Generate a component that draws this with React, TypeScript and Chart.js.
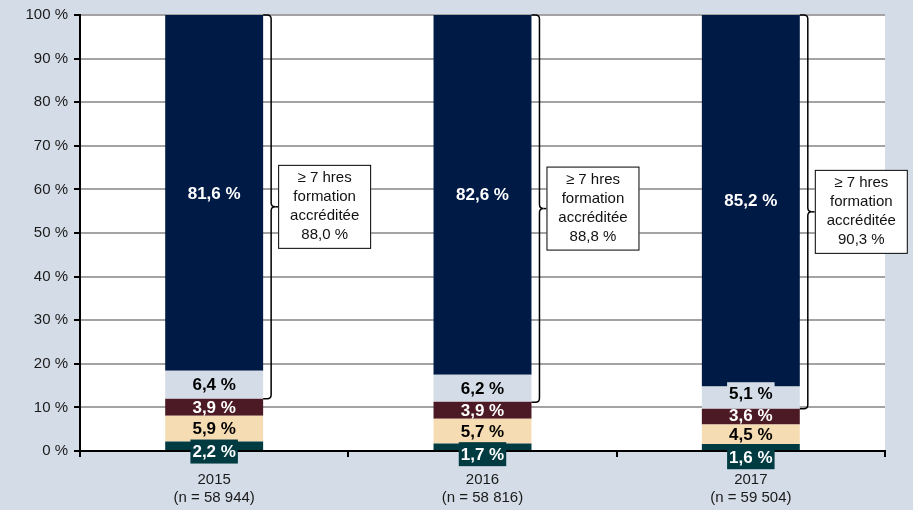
import React, { useEffect, useRef } from "react";
import { Chart, registerables } from "chart.js";

Chart.register(...registerables);

const categories: string[][] = [
  ["2015", "(n = 58 944)"],
  ["2016", "(n = 58 816)"],
  ["2017", "(n = 59 504)"],
];

const seriesTeal = [2.2, 1.7, 1.6];
const seriesBeige = [5.9, 5.7, 4.5];
const seriesMaroon = [3.9, 3.9, 3.6];
const seriesLight = [6.4, 6.2, 5.1];
const seriesNavy = [81.6, 82.6, 85.2];
const accredited = [88.0, 88.8, 90.3];
const bracketLines = ["\u2265 7 hres", "formation", "accréditée"];

const BG = "#d4dde7";
const colors = ["#003b42", "#f6dcb2", "#4b1a24", "#d4dde7", "#001a46"];
const labelColors = ["#ffffff", "#000000", "#ffffff", "#000000", "#ffffff"];
const boxedLabels = [true, false, false, true, false];
const FONT = "'Liberation Sans', Arial, sans-serif";

const fmt = (v: number) => v.toFixed(1).replace(".", ",") + " %";

const plotBgPlugin = {
  id: "plotBg",
  beforeDraw(chart: any) {
    const { ctx, chartArea: a } = chart;
    ctx.save();
    ctx.fillStyle = "#ffffff";
    ctx.fillRect(a.left, a.top, a.right - a.left, a.bottom - a.top);
    ctx.restore();
  },
};

const labelsPlugin = {
  id: "segLabels",
  afterDatasetsDraw(chart: any) {
    const { ctx } = chart;
    const n = chart.data.labels.length;
    ctx.save();
    ctx.font = `bold 17px ${FONT}`;
    ctx.textAlign = "center";
    ctx.textBaseline = "middle";
    const items: { x: number; y: number; t: string; i: number }[] = [];
    for (let j = 0; j < n; j++) {
      const segs: number[] = [];
      const xs: number[] = [];
      for (let i = 0; i < 5; i++) {
        const el: any = chart.getDatasetMeta(i).data[j];
        segs.push((el.y + el.base) / 2);
        xs.push(el.x);
      }
      const c: number[] = [...segs];
      c[2] = Math.min(segs[2], c[1] - 19);
      c[3] = Math.min(segs[3], c[2] - 22);
      c[0] = Math.max(segs[0], c[1] + 23);
      for (let i = 0; i < 5; i++) {
        items.push({ x: xs[i], y: c[i], t: fmt(chart.data.datasets[i].data[j]), i });
      }
    }
    for (const it of items) {
      if (!boxedLabels[it.i]) continue;
      const w = ctx.measureText(it.t).width;
      const h = it.i === 0 ? 24 : 22;
      ctx.fillStyle = colors[it.i];
      ctx.fillRect(it.x - w / 2 - 2, it.y - h / 2, w + 4, h);
    }
    for (const it of items) {
      ctx.fillStyle = labelColors[it.i];
      ctx.fillText(it.t, it.x, it.y + 1);
    }
    ctx.restore();
  },
};

const bracketPlugin = {
  id: "brackets",
  afterDraw(chart: any) {
    const { ctx } = chart;
    const yS = chart.scales.y;
    const meta = chart.getDatasetMeta(4);
    ctx.save();
    for (let j = 0; j < accredited.length; j++) {
      const el: any = meta.data[j];
      const x0 = el.x + el.width / 2;
      const lx = x0 + 8;
      const yTop = yS.getPixelForValue(100);
      const yBot = yS.getPixelForValue(100 - accredited[j]);
      const yMid = (yTop + yBot) / 2;
      const r = 4;
      ctx.strokeStyle = "#000";
      ctx.lineWidth = 1.5;
      ctx.beginPath();
      ctx.moveTo(x0, yTop);
      ctx.lineTo(lx - r, yTop);
      ctx.quadraticCurveTo(lx, yTop, lx, yTop + r);
      ctx.lineTo(lx, yMid - r);
      ctx.quadraticCurveTo(lx, yMid, lx + r, yMid);
      ctx.quadraticCurveTo(lx, yMid, lx, yMid + r);
      ctx.lineTo(lx, yBot - r);
      ctx.quadraticCurveTo(lx, yBot, lx - r, yBot);
      ctx.lineTo(x0, yBot);
      ctx.stroke();
      ctx.beginPath();
      ctx.moveTo(lx + r, yMid);
      ctx.lineTo(lx + 7, yMid);
      ctx.stroke();

      const bx = lx + 7;
      const bw = 93;
      const bh = 84;
      const by = yMid - bh / 2;
      ctx.fillStyle = "#ffffff";
      ctx.fillRect(bx, by, bw, bh);
      ctx.lineWidth = 1;
      ctx.strokeStyle = "#000";
      ctx.strokeRect(bx + 0.5, by + 0.5, bw - 1, bh - 1);
      ctx.fillStyle = "#111";
      ctx.font = `15px ${FONT}`;
      ctx.textAlign = "center";
      ctx.textBaseline = "middle";
      const lines = [...bracketLines, fmt(accredited[j])];
      const lh = 19;
      const start = yMid - (lh * (lines.length - 1)) / 2;
      lines.forEach((ln, k) => ctx.fillText(ln, bx + bw / 2, start + k * lh));
    }
    ctx.restore();
  },
};

export default function App() {
  const ref = useRef<HTMLCanvasElement | null>(null);
  useEffect(() => {
    if (!ref.current) return;
    const series = [seriesTeal, seriesBeige, seriesMaroon, seriesLight, seriesNavy];
    const names = ["Série 1", "Série 2", "Série 3", "Série 4", "Série 5"];
    const chart = new Chart(ref.current, {
      type: "bar",
      data: {
        labels: categories,
        datasets: series.map((d, i) => ({
          label: names[i],
          data: d,
          backgroundColor: colors[i],
          borderWidth: 0,
          categoryPercentage: 1,
          barPercentage: 0.365,
        })),
      },
      options: {
        animation: false,
        responsive: true,
        maintainAspectRatio: false,
        layout: { padding: { left: 0, right: 28, top: 15, bottom: 0 } },
        plugins: {
          legend: { display: false },
          tooltip: { enabled: false },
        },
        scales: {
          x: {
            stacked: true,
            grid: {
              drawOnChartArea: false,
              drawTicks: true,
              tickLength: 6,
              tickColor: "#000",
              lineWidth: 2,
            },
            border: { color: "#000", width: 2 },
            ticks: {
              color: "#1a1a1a",
              font: { family: FONT, size: 15 },
              padding: 14,
              maxRotation: 0,
            },
            afterFit(scale: any) {
              scale.height = 59;
            },
          },
          y: {
            stacked: true,
            min: 0,
            max: 100,
            ticks: {
              stepSize: 10,
              color: "#1a1a1a",
              font: { family: FONT, size: 15 },
              padding: 6,
              callback: (v: any) => `${v} %`,
            },
            grid: {
              color: "#a3a3a3",
              lineWidth: 2,
              tickColor: "#000",
              tickLength: 6,
            },
            border: { color: "#000", width: 2 },
            afterFit(scale: any) {
              scale.width = 80;
            },
          },
        },
      },
      plugins: [plotBgPlugin, labelsPlugin, bracketPlugin],
    });
    return () => chart.destroy();
  }, []);

  return (
    <div
      style={{
        position: "fixed",
        left: 0,
        top: 0,
        width: 913,
        height: 510,
        background: BG,
      }}
    >
      <canvas ref={ref} />
    </div>
  );
}
